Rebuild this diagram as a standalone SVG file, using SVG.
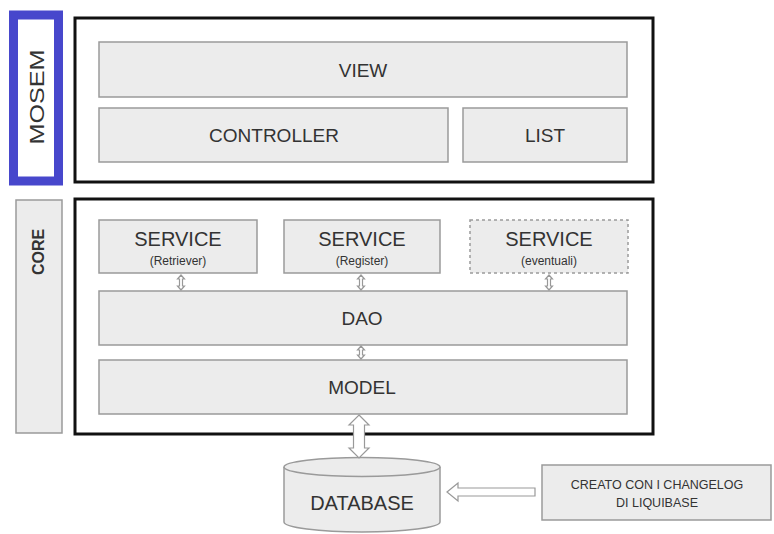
<svg xmlns="http://www.w3.org/2000/svg" width="774" height="534" viewBox="0 0 774 534">
<style>
.frame{fill:#fff;stroke:#111;stroke-width:3}
.box{fill:#ececec;stroke:#9a9a9a;stroke-width:1.5}
.dash{fill:#ececec;stroke:#9a9a9a;stroke-width:1.5;stroke-dasharray:3 3}
.t{font-family:"Liberation Sans",Arial,sans-serif;fill:#333;text-anchor:middle}
.arr{fill:#fff;stroke:#999;stroke-width:1.2}
</style>
<rect width="774" height="534" fill="#fff"/>
<g id="mosem">
<rect x="13.5" y="15" width="45" height="166" fill="#fff" stroke="#4747cc" stroke-width="9"/>
<text class="t" x="0" y="0" transform="translate(44,97) rotate(-90)" font-size="21" textLength="95" lengthAdjust="spacingAndGlyphs" fill="#1c1c3a">MOSEM</text>
</g>
<g id="core">
<rect x="16" y="200" width="46" height="233" class="box"/>
<text class="t" x="0" y="0" transform="translate(44,252) rotate(-90)" font-size="16" font-weight="bold" fill="#444">CORE</text>
</g>
<g id="top-frame"><rect x="75" y="18" width="578" height="164" class="frame"/></g>
<g id="core-frame"><rect x="75" y="199" width="578" height="235" class="frame"/></g>
<g id="view"><rect x="99" y="42" width="528" height="55" class="box"/><text class="t" x="363" y="77" font-size="19">VIEW</text></g>
<g id="controller"><rect x="99" y="108" width="349" height="54" class="box"/><text class="t" x="274" y="142" font-size="19">CONTROLLER</text></g>
<g id="list"><rect x="463" y="108" width="164" height="54" class="box"/><text class="t" x="545" y="142" font-size="19">LIST</text></g>
<g id="service-retriever"><rect x="99" y="220" width="158" height="53" class="box"/><text class="t" x="178" y="246" font-size="20">SERVICE</text><text class="t" x="178" y="265" font-size="12" fill="#555">(Retriever)</text></g>
<g id="service-register"><rect x="284" y="220" width="156" height="53" class="box"/><text class="t" x="362" y="246" font-size="20">SERVICE</text><text class="t" x="362" y="265" font-size="12" fill="#555">(Register)</text></g>
<g id="service-eventuali"><rect x="470" y="220" width="158" height="53" class="dash"/><text class="t" x="549" y="246" font-size="20">SERVICE</text><text class="t" x="549" y="265" font-size="12" fill="#555">(eventuali)</text></g>
<g id="dao"><rect x="99" y="291" width="528" height="54" class="box"/><text class="t" x="362" y="325" font-size="19">DAO</text></g>
<g id="model"><rect x="99" y="360" width="528" height="54" class="box"/><text class="t" x="362" y="394" font-size="19">MODEL</text></g>
<g id="database">
<path d="M284,467 L284,522 A78,10 0 0 0 440,522 L440,467" fill="#ececec" stroke="#9a9a9a" stroke-width="1.5"/>
<ellipse cx="362" cy="467" rx="78" ry="9.5" fill="#ececec" stroke="#9a9a9a" stroke-width="1.5"/>
<text class="t" x="362" y="510" font-size="20">DATABASE</text>
</g>
<g id="liquibase"><rect x="542" y="465" width="229" height="55" class="box"/><text class="t" x="657" y="489" font-size="12.5">CREATO CON I CHANGELOG</text><text class="t" x="657" y="507" font-size="12.5">DI LIQUIBASE</text></g>
<g id="connectors">
<polygon class="arr" points="181,275 184.5,279 182.5,279 182.5,286 184.5,286 181,290 177.5,286 179.5,286 179.5,279 177.5,279"/>
<polygon class="arr" points="361,275 364.5,279 362.5,279 362.5,286 364.5,286 361,290 357.5,286 359.5,286 359.5,279 357.5,279"/>
<polygon class="arr" points="549,275 552.5,279 550.5,279 550.5,286 552.5,286 549,290 545.5,286 547.5,286 547.5,279 545.5,279"/>
<polygon class="arr" points="361,346 364.5,350 362.5,350 362.5,355 364.5,355 361,359 357.5,355 359.5,355 359.5,350 357.5,350"/>
<polygon class="arr" points="359,415 369,425 364.5,425 364.5,448 369,448 359,458 349,448 353.5,448 353.5,425 349,425"/>
<polygon class="arr" points="447,492 458,483 458,488 535,488 535,496 458,496 458,501"/>
</g>
</svg>
